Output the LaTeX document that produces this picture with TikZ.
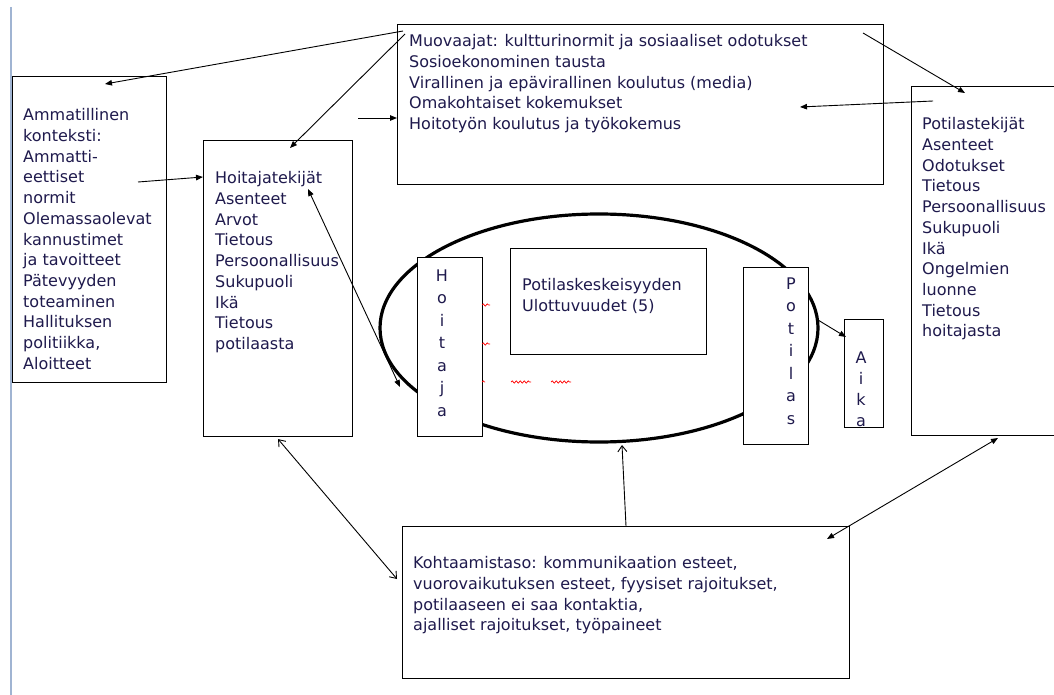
\documentclass[tikz,border=0pt]{standalone}
\usepackage{fontspec}
\setmainfont{DejaVu Sans}
\usetikzlibrary{arrows.meta,shapes.geometric,calc,decorations.pathmorphing}
\definecolor{navy}{RGB}{31,26,77}
\definecolor{marginblue}{RGB}{160,180,210}

\begin{document}
\begin{tikzpicture}[x=1pt,y=-1pt]
\tikzstyle{box} = [draw, line width=1.1pt, fill=white, inner sep=0pt, anchor=north west]
\tikzstyle{txt} = [anchor=north west, inner sep=0pt, align=left, text=navy, font=\fontsize{16}{20.7}\selectfont]
\tikzstyle{vtxt} = [anchor=north, inner sep=0pt, align=center, text=navy, font=\fontsize{16}{22.5}\selectfont]
\tikzstyle{arr} = [line width=0.9pt, -{Triangle[length=7pt,width=5.5pt]}]
\tikzstyle{arrboth} = [line width=0.9pt, {Triangle[length=7pt,width=5.5pt]}-{Triangle[length=7pt,width=5.5pt]}]
\tikzstyle{openarr} = [line width=0.9pt, -{Straight Barb[length=6pt,width=9pt]}]
\tikzstyle{openboth} = [line width=0.9pt, {Straight Barb[length=6pt,width=9pt]}-{Straight Barb[length=6pt,width=9pt]}]
\tikzstyle{squig} = [red, line width=0.7pt, decorate, decoration={snake, segment length=4pt, amplitude=1.2pt}]
\useasboundingbox (0,0) rectangle (1054,695);
\clip (0,0) rectangle (1054,695);
\draw[marginblue, line width=1.5pt] (11,7) -- (11,695);

% boxes
\node[box, minimum width=154, minimum height=306] (amm) at (12,76) {};
\node[box, minimum width=149, minimum height=296] (hoit) at (203,140) {};
\node[box, minimum width=486, minimum height=160] (muov) at (397,24) {};
\node[box, minimum width=170, minimum height=349] (pot) at (911,86) {};
\node[box, minimum width=447, minimum height=152] (koht) at (402,526) {};
\node[draw, ellipse, line width=3.2pt, inner sep=0pt, minimum width=438, minimum height=228] (ell) at (599,328) {};
\node[box, minimum width=65, minimum height=179] (hoitaja) at (417,257) {};
\node[box, minimum width=196, minimum height=106] (ulott) at (510,248) {};
\node[box, minimum width=65, minimum height=177] (potilas) at (743,267) {};
\node[box, minimum width=39, minimum height=108] (aika) at (844,319) {};

% texts
\node[txt] (ammtxt) at (23,108.5) {Ammatillinen\\konteksti:\\Ammatti-\\eettiset\\normit\\Olemassaolevat\\kannustimet\\ja tavoitteet\\Pätevyyden\\toteaminen\\Hallituksen\\politiikka,\\Aloitteet};
\node[txt] (hoittxt) at (215,171.5) {Hoitajatekijät\\Asenteet\\Arvot\\Tietous\\Persoonallisuus\\Sukupuoli\\Ikä\\Tietous\\potilaasta};
\node[txt] (muovtxt) at (409,34.5) {Muovaajat: kultturinormit ja sosiaaliset odotukset\\Sosioekonominen tausta\\Virallinen ja epävirallinen koulutus (media)\\Omakohtaiset kokemukset\\Hoitotyön koulutus ja työkokemus};
\node[txt] (pottxt) at (922,117.5) {Potilastekijät\\Asenteet\\Odotukset\\Tietous\\Persoonallisuus\\Sukupuoli\\Ikä\\Ongelmien\\luonne\\Tietous\\hoitajasta};
\node[txt] (ulotttxt) at (522,278.5) {Potilaskeskeisyyden\\Ulottuvuudet (5)};
\node[txt] (kohttxt) at (413,556.5) {Kohtaamistaso: kommunikaation esteet,\\vuorovaikutuksen esteet, fyysiset rajoitukset,\\potilaaseen ei saa kontaktia,\\ajalliset rajoitukset, työpaineet};
\node[vtxt] (hoitajatxt) at (442,269.5) {H\\o\\i\\t\\a\\j\\a};
\node[vtxt] (potilastxt) at (791,277.5) {P\\o\\t\\i\\l\\a\\s};
\node[vtxt, font=\fontsize{16}{21}\selectfont] (aikatxt) at (861,351.5) {A\\i\\k\\a};

\draw[squig] (482,305) -- (490,305);
\draw[squig] (482,344) -- (490,344);
\draw[squig] (482,382) -- (485,382);
\draw[squig] (511,382) -- (531,382);
\draw[squig] (551,382) -- (571,382);

% connectors
\coordinate (hoitout) at ($(hoit.north east)+(5,-22)$);
\draw[arr] ($(muov.north west)+(6,7)$) -- ($(amm.north west)+(93,8)$);
\draw[arr] ($(muov.north west)+(8,10)$) -- ($(hoit.north west)+(87,8)$);
\draw[arr] (hoitout) -- ($(muov.north west)+(0,94)$);
\draw[arr] ($(amm.north west)+(126,106)$) -- ($(hoit.north west)+(0,37)$);
\draw[arr] ($(muov.north west)+(466,9)$) -- ($(pot.north west)+(54,7)$);
\draw[arr] ($(pot.north west)+(22,15)$) -- ($(muov.north west)+(403,83)$);
\draw[arrboth] ($(hoit.north west)+(105,49)$) -- ($(ell.center)+(-199,59)$);
\draw[arr] ($(ell.center)+(219,-8)$) -- ($(aika.north west)+(2,18)$);
\draw[openboth] ($(hoit.south)+(0,2)$) -- ($(koht.north west)+(-5,53)$);
\draw[openarr] ($(koht.north west)+(224,0)$) -- ($(ell.center)+(23,117)$);
\draw[arrboth] ($(pot.north west)+(87,352)$) -- ($(koht.north west)+(425,13)$);
\end{tikzpicture}
\end{document}
